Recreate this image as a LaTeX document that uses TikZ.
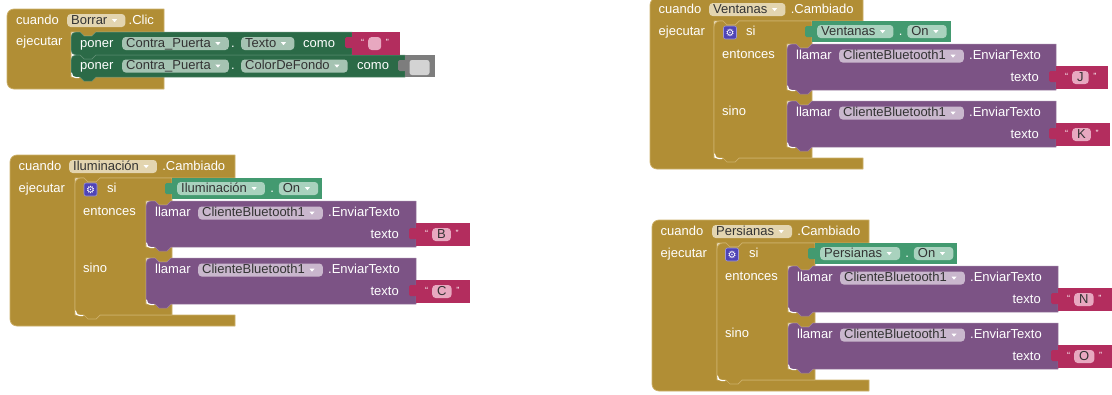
\documentclass[tikz,border=0pt]{standalone}
\usepackage{fontspec}
\setmainfont{Liberation Sans}
\newfontfamily\symfont{DejaVu Sans}
\usetikzlibrary{calc}

\definecolor{evgold}{HTML}{B18E35}
\definecolor{evedge}{HTML}{CDB06A}
\definecolor{setgreen}{HTML}{2B6A47}
\definecolor{getgreen}{HTML}{439A70}
\definecolor{callpurple}{HTML}{7C5385}
\definecolor{txtpink}{HTML}{B32D5E}
\definecolor{clrgray}{HTML}{7D7D7D}
\definecolor{clrlight}{HTML}{D3D3D3}
\definecolor{fldgold}{HTML}{E3D5B0}
\definecolor{fldset}{HTML}{A5C3B2}
\definecolor{fldget}{HTML}{A9D2BE}
\definecolor{fldcall}{HTML}{C9B7CD}
\definecolor{fldpink}{HTML}{E8A8C0}
\definecolor{gearblue}{HTML}{4F44B6}
\definecolor{fldtext}{HTML}{333333}

\tikzset{
  blockfont/.style={font=\fontsize{13}{15}\selectfont},
  lbl/.style={blockfont, text=white, inner sep=0pt, anchor=west, text height=9.5pt, text depth=2.5pt},
  ddbox/.style={blockfont, text=fldtext, inner xsep=4pt, inner ysep=0.5pt, anchor=west,
    rounded corners=3.5pt, text height=9.5pt, text depth=2.5pt},
  strbox/.style={ddbox, fill=fldpink, inner xsep=5pt, minimum width=13pt},
  quotemark/.style={text=white, inner sep=0pt, anchor=base, font=\fontsize{9}{9}\selectfont},
  goldblk/.style={fill=evgold, draw=evedge, line width=0.7pt, line join=round},
  stmtstyle/.style={line width=0.5pt, line join=round},
  gearbox/.style={fill=gearblue, draw=gearblue!55!white, line width=0.6pt, rounded corners=2pt,
    minimum size=13pt, inner sep=0pt, text=white, font=\symfont\fontsize{10}{10}\selectfont},
  swatch/.style={fill=clrlight, rounded corners=2.5pt, minimum width=20pt, minimum height=15pt, inner sep=0pt},
  hilite/.style={white, line width=1pt, line cap=round},
}

% event handler: x, top, header right, header bottom, column right, bar top, bottom
\newcommand\eventshape[7]{%
  \filldraw[goldblk] (#1,#2+7) .. controls (#1,#2+3) and (#1+3,#2) .. (#1+7,#2)
    -- (#3,#2) -- (#3,#4)
    -- (#5+25,#4) -- (#5+21,#4+4) -- (#5+13,#4+4) -- (#5+9,#4) -- (#5,#4)
    -- (#5,#6) -- (#3,#6) -- (#3,#7)
    -- (#1+7,#7) .. controls (#1+3,#7) and (#1,#7-3) .. (#1,#7-7) -- cycle;}

% if/else block: x, top, right, input1 top, inner x, input1 bottom, input2 top, input2 bottom, bottom
\newcommand\siblock[9]{%
  \filldraw[goldblk] (#1,#2+6) .. controls (#1,#2+2.5) and (#1+2.5,#2) .. (#1+6,#2)
    -- (#1+9,#2) -- (#1+13,#2+4) -- (#1+21,#2+4) -- (#1+25,#2)
    -- (#3,#2) -- (#3,#4)
    -- (#5+25,#4) -- (#5+21,#4+4) -- (#5+13,#4+4) -- (#5+9,#4) -- (#5,#4)
    -- (#5,#6) -- (#3,#6) -- (#3,#7)
    -- (#5+25,#7) -- (#5+21,#7+4) -- (#5+13,#7+4) -- (#5+9,#7) -- (#5,#7)
    -- (#5,#8) -- (#3,#8) -- (#3,#9)
    -- (#1+25,#9) -- (#1+21,#9+4) -- (#1+13,#9+4) -- (#1+9,#9)
    -- (#1+6,#9) .. controls (#1+2.5,#9) and (#1,#9-2.5) .. (#1,#9-6) -- cycle;}

% statement block: x1, y1, x2, y2, colour
\newcommand\stmtblk[5]{%
  \filldraw[stmtstyle, fill=#5, draw=#5!75!white] (#1,#2+5) .. controls (#1,#2+2) and (#1+2,#2) .. (#1+5,#2)
    -- (#1+9,#2) -- (#1+13,#2+4) -- (#1+21,#2+4) -- (#1+25,#2) -- (#3,#2) -- (#3,#4)
    -- (#1+25,#4) -- (#1+21,#4+4) -- (#1+13,#4+4) -- (#1+9,#4)
    -- (#1+5,#4) .. controls (#1+2,#4) and (#1,#4-2) .. (#1,#4-5) -- cycle;}

% value block with its plug: left, top, right, bottom, colour
\newcommand\valblk[5]{%
  \fill[#5] (#1,#2) rectangle (#3,#4);
  \fill[#5, rounded corners=1.5pt] (#1+1,#2+5) -- (#1-7,#2+5) -- (#1-7,#2+16) -- (#1+1,#2+16) -- cycle;}

% dropdown field: name, position, text, fill
\newcommand\dropfield[4]{%
  \node[ddbox, fill=#4] (#1) at #2 {#3\kern14pt};
  \fill[white] ($(#1.east)+(-13.5,-1.3)$) -- ++(5,0) -- ++(-2.5,3) -- cycle;}

% text literal: name, left, top, right, bottom, letter
\newcommand\strlit[6]{%
  \valblk{#2}{#3}{#4}{#5}{txtpink}
  \node[strbox] (#1) at ({#2+16},{(#3+#5)/2}) {#6};
  \node[quotemark] (#1-open) at ($(#1.west)+(-5.5,2)$) {“};
  \node[quotemark] (#1-close) at ($(#1.east)+(6,2)$) {”};}

% white highlight in the inner corner of a statement input
\newcommand\cornerhl[2]{%
  \draw[hilite] (#1+0.6,#2-4) .. controls (#1+0.6,#2-1) and (#1+2,#2+0.7) .. (#1+5,#2+0.7) -- (#1+8,#2+0.7);}

% Bluetooth send call: name, inner x, top, right, letter, literal right
\newcommand\callblk[6]{%
  \stmtblk{#2}{#3}{#4}{#3+46}{callpurple}
  \node[lbl] (#1-call) at (#2+9,#3+12) {llamar};
  \dropfield{#1-comp}{(#2+52,#3+12)}{ClienteBluetooth1}{fldcall}
  \node[lbl] (#1-meth) at (#2+182,#3+12) {.EnviarTexto};
  \node[lbl, anchor=east] (#1-arg) at ({#4-17},{#3+33.5}) {texto};
  \strlit{#1-str}{#4}{#3+22}{#6}{#3+45}{#5}
  \cornerhl{#2}{#3+46}}

\begin{document}
\begin{tikzpicture}[x=1pt, y=-1pt]
\useasboundingbox (0,0) rectangle (1112,394);
\clip (0,0) rectangle (1112,394);
\fill[white] (0,0) rectangle (1112,394);

% ---- cuando Borrar.Clic ----
\eventshape{7}{9}{164}{32}{71}{77}{89}
\node[lbl] (b1when) at (16,20.5) {cuando};
\dropfield{b1comp}{(67,20.5)}{Borrar}{fldgold}
\node[lbl] (b1evt) at ($(b1comp.east)+(3,0)$) {.Clic};
\node[lbl] (b1do) at (16,42) {ejecutar};
\stmtblk{71}{32}{352}{55}{setgreen}
\stmtblk{71}{55}{405}{77}{setgreen}
\cornerhl{71}{77}
\node[lbl] (b1set1) at (80,43.5) {poner};
\dropfield{b1obj1}{(122,43.5)}{Contra\_Puerta}{fldset}
\node[lbl] (b1dot1) at (231,43.5) {.};
\dropfield{b1prop1}{(241,43.5)}{Texto}{fldset}
\node[lbl] (b1to1) at (303,43.5) {como};
\strlit{b1str}{352}{32}{400}{55}{}
\node[lbl] (b1set2) at (80,66) {poner};
\dropfield{b1obj2}{(122,66)}{Contra\_Puerta}{fldset}
\node[lbl] (b1dot2) at (231,66) {.};
\dropfield{b1prop2}{(241,66)}{ColorDeFondo}{fldset}
\node[lbl] (b1to2) at (357,66) {como};
\valblk{405}{55}{435}{77}{clrgray}
\node[swatch] (b1swatch) at (419.5,67.5) {};

% ---- cuando Iluminacion.Cambiado ----
\eventshape{10}{155}{235}{178}{75}{315}{326}
\node[lbl] (b2when) at (18.5,166.5) {cuando};
\dropfield{b2comp}{(69,166.5)}{Iluminación}{fldgold}
\node[lbl] (b2evt) at ($(b2comp.east)+(5,0)$) {.Cambiado};
\node[lbl] (b2do) at (18.5,189) {ejecutar};
\siblock{75}{178}{172}{201}{146}{247}{258}{304}{315}
\cornerhl{75}{315}
\node[gearbox] (b2gear) at (90.5,189.5) {⚙};
\node[lbl] (b2if) at (107,189) {si};
\node[lbl] (b2then) at (83,211.5) {entonces};
\node[lbl] (b2else) at (83,268.5) {sino};
\valblk{172}{178}{322}{199}{getgreen}
\dropfield{b2sw}{(177,188.5)}{Iluminación}{fldget}
\node[lbl] (b2dot) at ($(b2sw.east)+(5,0)$) {.};
\dropfield{b2on}{($(b2dot.east)+(4.5,0)$)}{On}{fldget}
\callblk{b2a}{146}{201}{416}{B}{469.7}
\callblk{b2b}{146}{258}{416}{C}{470.4}

% ---- cuando Ventanas.Cambiado ----
\eventshape{650}{-2}{863}{21}{714}{158}{169}
\node[lbl] (b3when) at (658.5,9.5) {cuando};
\dropfield{b3comp}{(709,9.5)}{Ventanas}{fldgold}
\node[lbl] (b3evt) at ($(b3comp.east)+(5,0)$) {.Cambiado};
\node[lbl] (b3do) at (658.5,32) {ejecutar};
\siblock{714}{21}{812}{44}{787}{90}{101}{147}{158}
\cornerhl{714}{158}
\node[gearbox] (b3gear) at (730,32.5) {⚙};
\node[lbl] (b3if) at (746,32) {si};
\node[lbl] (b3then) at (722,54.5) {entonces};
\node[lbl] (b3else) at (722,111.5) {sino};
\valblk{812}{21}{951}{42}{getgreen}
\dropfield{b3sw}{(817,31.5)}{Ventanas}{fldget}
\node[lbl] (b3dot) at ($(b3sw.east)+(5,0)$) {.};
\dropfield{b3on}{($(b3dot.east)+(4.5,0)$)}{On}{fldget}
\callblk{b3a}{787}{44}{1056}{J}{1107.5}
\callblk{b3b}{787}{101}{1056}{K}{1109.7}

% ---- cuando Persianas.Cambiado ----
\eventshape{652}{220}{869}{243}{717}{380}{391}
\node[lbl] (b4when) at (660.5,231.5) {cuando};
\dropfield{b4comp}{(712,231.5)}{Persianas}{fldgold}
\node[lbl] (b4evt) at ($(b4comp.east)+(5,0)$) {.Cambiado};
\node[lbl] (b4do) at (660.5,254) {ejecutar};
\siblock{717}{243}{815}{266}{788}{312}{323}{369}{380}
\cornerhl{717}{380}
\node[gearbox] (b4gear) at (732,254.5) {⚙};
\node[lbl] (b4if) at (749,254) {si};
\node[lbl] (b4then) at (725,276.5) {entonces};
\node[lbl] (b4else) at (725,333.5) {sino};
\valblk{815}{243}{957}{264}{getgreen}
\dropfield{b4sw}{(820,253.5)}{Persianas}{fldget}
\node[lbl] (b4dot) at ($(b4sw.east)+(5,0)$) {.};
\dropfield{b4on}{($(b4dot.east)+(4.5,0)$)}{On}{fldget}
\callblk{b4a}{788}{266}{1058}{N}{1112.4}
\callblk{b4b}{788}{323}{1058}{O}{1113.1}
\end{tikzpicture}
\end{document}
